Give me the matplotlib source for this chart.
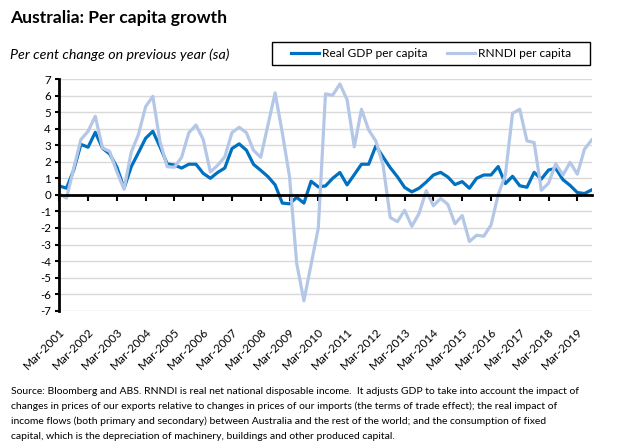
import numpy as np
import matplotlib
matplotlib.use("Agg")
import matplotlib.pyplot as plt
from matplotlib.patches import Rectangle

plt.rcParams['font.family'] = ['Lato', 'DejaVu Sans']
plt.rcParams['axes.unicode_minus'] = False

# quarterly, Mar-2001 .. Sep-2019
real_gdp_pc = [0.54, 0.40, 1.50, 3.05, 2.88, 3.78, 2.82, 2.47, 1.68, 0.40,
               1.70, 2.55, 3.42, 3.84, 2.90, 1.87, 1.80, 1.62, 1.85, 1.85,
               1.30, 1.00, 1.35, 1.62, 2.80, 3.08, 2.70, 1.84, 1.48, 1.10,
               0.60, -0.50, -0.54, -0.15, -0.50, 0.82, 0.48, 0.54, 1.00, 1.35,
               0.60, 1.22, 1.85, 1.85, 2.96, 2.29, 1.64, 1.09, 0.45, 0.18,
               0.40, 0.77, 1.20, 1.36, 1.08, 0.62, 0.80, 0.40, 1.00, 1.20,
               1.20, 1.71, 0.68, 1.12, 0.55, 0.46, 1.36, 0.95, 1.50, 1.60,
               0.92, 0.57, 0.14, 0.08, 0.30]
rnndi_pc = [0.06, -0.20, 1.60, 3.34, 3.84, 4.75, 2.84, 2.62, 1.40, 0.34,
            2.58, 3.65, 5.33, 5.95, 3.20, 1.70, 1.67, 2.27, 3.75, 4.22,
            3.35, 1.38, 1.78, 2.29, 3.76, 4.08, 3.76, 2.69, 2.27, 4.22,
            6.16, 3.74, 1.10, -4.15, -6.40, -4.20, -2.00, 6.10, 6.02, 6.70,
            5.75, 2.90, 5.17, 3.92, 3.25, 1.80, -1.37, -1.62, -0.93, -1.90,
            -1.13, 0.25, -0.66, -0.22, -0.57, -1.75, -1.25, -2.82, -2.44, -2.50,
            -1.83, 0.00, 1.20, 4.93, 5.17, 3.26, 3.16, 0.28, 0.70, 1.88,
            1.20, 1.96, 1.25, 2.76, 3.32]
year_labels = ['Mar-2001', 'Mar-2002', 'Mar-2003', 'Mar-2004', 'Mar-2005',
               'Mar-2006', 'Mar-2007', 'Mar-2008', 'Mar-2009', 'Mar-2010',
               'Mar-2011', 'Mar-2012', 'Mar-2013', 'Mar-2014', 'Mar-2015',
               'Mar-2016', 'Mar-2017', 'Mar-2018', 'Mar-2019']
source_lines = [
    "Source: Bloomberg and ABS. RNNDI is real net national disposable income.  It adjusts GDP to take into account the impact of",
    "changes in prices of our exports relative to changes in prices of our imports (the terms of trade effect); the real impact of",
    "income flows (both primary and secondary) between Australia and the rest of the world; and the consumption of fixed",
    "capital, which is the depreciation of machinery, buildings and other produced capital.",
]

W, H = 638, 447
fig = plt.figure(figsize=(W / 100, H / 100), dpi=100)
ax = fig.add_axes([59.3 / W, 1 - 310.7 / H, (591.7 - 59.3) / W, (310.7 - 79) / H])

x = np.arange(len(real_gdp_pc))
ax.plot(x, real_gdp_pc, color='#0070C0', lw=2.3, label='Real GDP per capita', solid_joinstyle='round')
ax.plot(x, rnndi_pc, color='#B4C7E7', lw=2.3, label='RNNDI per capita', solid_joinstyle='round')

ax.set_xlim(0, len(x) - 1)
ax.set_ylim(-7, 7)
ax.set_yticks(range(-7, 8))
ax.yaxis.grid(True, color='#D9D9D9', lw=1)
ax.set_axisbelow(True)
ax.tick_params(axis='y', direction='out', length=3, width=1.5, labelsize=8.3, pad=3)

for s in ['top', 'right']:
    ax.spines[s].set_visible(False)
ax.spines['left'].set_linewidth(2)
ax.spines['bottom'].set_position(('data', 0))
ax.spines['bottom'].set_linewidth(2)

ticks = np.arange(0, len(x), 4)
ax.set_xticks(ticks)
ax.tick_params(axis='x', direction='out', length=4, width=1.5, labelbottom=False)

sec = ax.secondary_xaxis('bottom')
sec.set_xticks(ticks, year_labels)
sec.tick_params(length=0, pad=11, labelsize=8.5)
sec.spines['bottom'].set_visible(False)
for lbl in sec.get_xticklabels():
    lbl.set_rotation(45)
    lbl.set_ha('right')
    lbl.set_rotation_mode('anchor')

fig.text(10 / W, 1 - 23 / H, 'Australia: Per capita growth', fontsize=12.6, fontweight='bold')
fig.text(10 / W, 1 - 59 / H, 'Per cent change on previous year (sa)', fontsize=10.3, style='italic')

fig.patches.append(Rectangle((272 / W, 1 - 65 / H), (590 - 272) / W, (65 - 41.7) / H,
                             transform=fig.transFigure, fill=False, ec='black', lw=1))
fig.legend(loc='center', bbox_to_anchor=(431 / W, 1 - 53.3 / H), ncol=2, frameon=False,
           fontsize=8.6, handlelength=2.3, handletextpad=0.25, columnspacing=1.7)

for i, line in enumerate(source_lines):
    fig.text(11 / W, 1 - (394 + 15 * i) / H, line, fontsize=7.45)

fig.savefig('out.png', dpi=100)
